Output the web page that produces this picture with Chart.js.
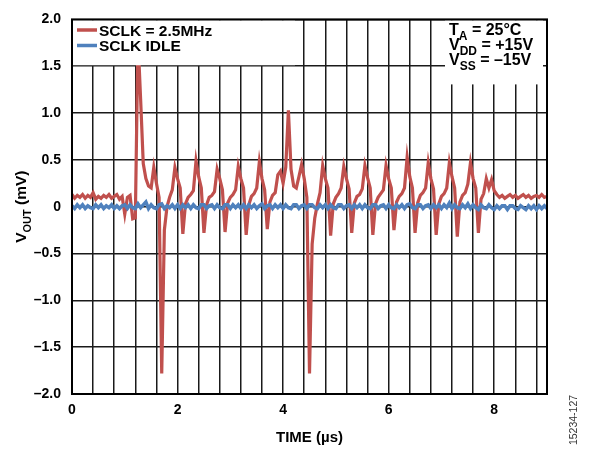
<!DOCTYPE html>
<html>
<head>
<meta charset="utf-8">
<script src="https://cdn.jsdelivr.net/npm/chart.js@4.4.1/dist/chart.umd.min.js"></script>
<style>
  html, body { margin: 0; padding: 0; background: #fff; }
  #wrap { width: 591px; height: 452px; }
</style>
</head>
<body>
<div id="wrap"><canvas id="chart"></canvas></div>
<script>
// sample spacing of the scope traces, in µs
const STEP_US = 0.05;

// VOUT (mV) with SCLK running at 2.5MHz, one value per 0.05 µs
const sclkActive = [
  0.13, 0.09, 0.12, 0.10, 0.13, 0.09, 0.12, 0.10, 0.15, 0.08,
  0.11, 0.09, 0.12, 0.10, 0.13, 0.09, 0.11, 0.13, 0.08, 0.11,
  -0.08, 0.10, 0.12, -0.13, -0.12, 1.80, 1.15, 0.46, 0.30, 0.22,
  0.20, 0.42, 0.25, 0.10, -1.78, -0.25, 0.00, 0.10, 0.18, 0.42,
  0.30, 0.20, -0.29, 0.03, 0.10, 0.13, 0.17, 0.49, 0.32, 0.20,
  -0.28, 0.02, 0.10, 0.12, 0.16, 0.40, 0.30, 0.18, -0.27, 0.04,
  0.10, 0.13, 0.18, 0.43, 0.30, 0.20, -0.30, 0.02, 0.11, 0.14,
  0.20, 0.48, 0.30, 0.18, -0.24, 0.05, 0.12, 0.15, 0.34, 0.38,
  0.25, 0.42, 1.03, 0.40, 0.22, 0.20, 0.32, 0.45, 0.30, 0.10,
  -1.78, -0.40, -0.12, 0.03, 0.15, 0.44, 0.30, 0.20, -0.31, 0.03,
  0.10, 0.14, 0.20, 0.43, 0.30, 0.19, -0.28, 0.04, 0.11, 0.13,
  0.19, 0.44, 0.31, 0.20, -0.30, 0.03, 0.10, 0.14, 0.18, 0.44,
  0.30, 0.20, -0.25, 0.05, 0.11, 0.14, 0.20, 0.53, 0.32, 0.20,
  -0.28, 0.04, 0.12, 0.15, 0.20, 0.47, 0.30, 0.19, -0.30, 0.03,
  0.11, 0.14, 0.20, 0.47, 0.32, 0.20, -0.32, 0.05, 0.12, 0.15,
  0.24, 0.47, 0.30, 0.20, -0.28, 0.08, 0.14, 0.30, 0.20, 0.29,
  0.17, 0.13, 0.10, 0.12, 0.09, 0.11, 0.13, 0.10, 0.12, 0.09,
  0.11, 0.13, 0.10, 0.12, 0.09, 0.11, 0.12, 0.10, 0.13, 0.10,
  0.11
];

// VOUT (mV) with SCLK idle
const sclkIdle = [
  0.01, -0.02, 0.02, -0.01, 0.02, -0.02, 0.01, -0.01, -0.02, 0.02,
  -0.01, 0.02, -0.02, 0.01, -0.01, 0.02, -0.02, 0.01, -0.02, 0.01,
  0.02, -0.02, 0.02, -0.01, -0.02, 0.03, -0.01, 0.02, 0.05, -0.02,
  0.02, -0.01, -0.02, 0.02, 0.03, -0.02, 0.01, -0.01, 0.02, -0.02,
  0.02, -0.02, 0.02, -0.01, 0.02, -0.02, 0.02, -0.01, -0.02, 0.02,
  0.02, -0.02, 0.01, 0.02, -0.02, 0.02, -0.01, -0.02, 0.02, 0.02,
  -0.02, 0.02, -0.01, 0.02, -0.02, 0.02, -0.02, 0.02, -0.01, 0.02,
  -0.02, 0.01, 0.03, -0.02, 0.01, 0.02, -0.02, 0.02, -0.01, 0.02,
  -0.02, 0.02, -0.01, -0.02, 0.02, 0.02, -0.02, 0.01, 0.02, -0.02,
  0.02, 0.02, -0.01, -0.02, 0.02, -0.01, 0.02, -0.02, 0.02, -0.01,
  -0.02, 0.02, 0.02, -0.02, 0.01, 0.02, -0.02, 0.02, -0.01, 0.02,
  -0.02, 0.02, -0.01, -0.02, 0.02, 0.02, -0.02, 0.01, 0.02, -0.02,
  0.02, -0.01, -0.02, 0.02, -0.01, 0.02, -0.02, 0.02, 0.03, -0.01,
  -0.02, 0.02, 0.02, -0.02, 0.01, 0.02, -0.02, 0.02, -0.01, 0.02,
  -0.02, 0.02, -0.01, 0.04, -0.02, 0.02, -0.01, -0.02, 0.02, -0.01,
  0.03, -0.02, 0.02, -0.01, -0.03, 0.02, -0.01, -0.02, 0.02, -0.01,
  -0.03, 0.01, -0.02, 0.01, 0.01, -0.03, 0.01, 0.01, -0.02, -0.03,
  0.01, -0.01, -0.03, 0.01, -0.02, 0.01, -0.03, 0.01, -0.02, 0.01,
  -0.02
];

const timeUs = sclkActive.map((_, i) => +(i * STEP_US).toFixed(2));

const xLabelValues = [0, 2, 4, 6, 8];
const yTickValues = [2, 1.5, 1, 0.5, 0, -0.5, -1, -1.5, -2];
const yTickLabels = ["2.0", "1.5", "1.0", "0.5", "0", "\u20130.5", "\u20131.0", "\u20131.5", "\u20132.0"];

const FONT = "'Liberation Sans', Arial, sans-serif";
const RED = "#c0504d";
const BLUE = "#4f81bd";

// draws text with subscript parts, returns width
function richText(ctx, parts, x, y, size, draw = true) {
  let cx = x;
  parts.forEach(([txt, sub]) => {
    const s = sub ? Math.round(size * 0.72) : size;
    ctx.font = `bold ${s}px ${FONT}`;
    if (draw) ctx.fillText(txt, cx, sub ? y + size * 0.3 : y);
    cx += ctx.measureText(txt).width;
  });
  return cx - x;
}

const extras = {
  id: "extras",
  afterDatasetsDraw(chart) {
    const { ctx, chartArea: a, scales } = chart;
    const y15 = scales.y.getPixelForValue(1.5);
    ctx.save();

    // white boxes over the grid
    ctx.fillStyle = "#fff";
    ctx.fillRect(a.left + 1, a.top + 1, 222, y15 - a.top - 2);
    ctx.fillRect(a.right - 102, a.top + 1, 98, 64);

    // legend
    ctx.textBaseline = "alphabetic";
    ctx.textAlign = "left";
    chart.data.datasets.forEach((ds, i) => {
      const yy = 30 + i * 15.5;
      ctx.strokeStyle = ds.borderColor;
      ctx.lineWidth = 3.5;
      ctx.beginPath();
      ctx.moveTo(a.left + 5, yy);
      ctx.lineTo(a.left + 25, yy);
      ctx.stroke();
      ctx.fillStyle = "#000";
      ctx.font = `bold 15.5px ${FONT}`;
      ctx.fillText(ds.label, a.left + 27, yy + 5.5);
    });

    // test conditions
    ctx.fillStyle = "#000";
    const tx = a.right - 98;
    richText(ctx, [["T", false], ["A", true], [" = 25\u00b0C", false]], tx, 35, 16);
    richText(ctx, [["V", false], ["DD", true], [" = +15V", false]], tx, 50, 16);
    richText(ctx, [["V", false], ["SS", true], [" = \u201315V", false]], tx, 65, 16);

    // frame
    ctx.strokeStyle = "#000";
    ctx.lineWidth = 2;
    ctx.strokeRect(a.left, a.top, a.right - a.left, a.bottom - a.top);
    ctx.restore();
  },
  afterDraw(chart) {
    const { ctx, chartArea: a } = chart;
    ctx.save();
    ctx.fillStyle = "#000";
    ctx.textBaseline = "alphabetic";

    // x title
    ctx.font = `bold 15px ${FONT}`;
    ctx.textAlign = "center";
    ctx.fillText("TIME (\u00b5s)", (a.left + a.right) / 2, 442);

    // y title with subscript
    const yParts = [["V", false], ["OUT", true], [" (mV)", false]];
    ctx.textAlign = "left";
    const w = richText(ctx, yParts, 0, 0, 15.5, false);
    ctx.translate(26, (a.top + a.bottom) / 2);
    ctx.rotate(-Math.PI / 2);
    richText(ctx, yParts, -w / 2, 0, 15.5);
    ctx.restore();

    // figure number
    ctx.save();
    ctx.fillStyle = "#333";
    ctx.font = `10.5px ${FONT}`;
    ctx.textAlign = "center";
    ctx.translate(577, 420);
    ctx.rotate(-Math.PI / 2);
    ctx.fillText("15234-127", 0, 0);
    ctx.restore();
  },
};

const ctx = document.getElementById("chart").getContext("2d");

new Chart(ctx, {
  type: "line",
  data: {
    datasets: [
      {
        label: "SCLK = 2.5MHz",
        data: timeUs.map((t, i) => ({ x: t, y: sclkActive[i] })),
        borderColor: RED,
        borderWidth: 3.2,
        pointRadius: 0,
        tension: 0,
        order: 1,
      },
      {
        label: "SCLK IDLE",
        data: timeUs.map((t, i) => ({ x: t, y: sclkIdle[i] })),
        borderColor: BLUE,
        borderWidth: 3.5,
        pointRadius: 0,
        tension: 0,
        order: 0,
      },
    ],
  },
  options: {
    responsive: true,
    maintainAspectRatio: false,
    animation: false,
    layout: {
      padding: { left: 0, right: 44, top: 13, bottom: 0 },
    },
    plugins: {
      legend: { display: false },
      tooltip: { enabled: false },
    },
    scales: {
      x: {
        type: "linear",
        min: 0,
        max: 9,
        afterFit: (scale) => { scale.height = 58; },
        border: { display: false },
        grid: {
          color: "#1a1a1a",
          lineWidth: 1.5,
          drawTicks: false,
        },
        ticks: {
          stepSize: 0.4,
          includeBounds: false,
          autoSkip: false,
          maxRotation: 0,
          padding: 8,
          color: "#000",
          font: { family: FONT, size: 14, weight: "bold" },
          callback: (value) => (xLabelValues.includes(Math.round(value * 10) / 10) ? String(value) : ""),
        },
      },
      y: {
        min: -2,
        max: 2,
        afterFit: (scale) => { scale.width = 72; },
        border: { display: false },
        grid: {
          color: "#1a1a1a",
          lineWidth: 1.5,
          drawTicks: false,
        },
        ticks: {
          stepSize: 0.5,
          padding: 11,
          color: "#000",
          font: { family: FONT, size: 14, weight: "bold" },
          callback: (value) => {
            const k = yTickValues.findIndex((v) => Math.abs(v - value) < 1e-6);
            return k >= 0 ? yTickLabels[k] : "";
          },
        },
      },
    },
  },
  plugins: [extras],
});
</script>
</body>
</html>
